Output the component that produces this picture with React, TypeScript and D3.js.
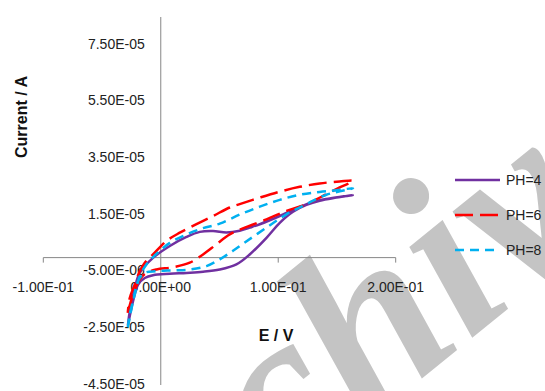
import React from 'react';
import * as d3 from 'd3';

// E / V and current (x1e-5 A), lower branch left->right then upper branch back
const ph4E = [-0.028, -0.0236, -0.0193, -0.0136, -0.0066, 0.0077, 0.0219, 0.036, 0.0502, 0.0644, 0.0757, 0.09, 0.1013, 0.1126, 0.124, 0.1353, 0.1495, 0.1634,
  0.1438, 0.1294, 0.1155, 0.1013, 0.0843, 0.0757, 0.0672, 0.0559, 0.0445, 0.0332, 0.0219, 0.0077, -0.0066, -0.0179, -0.0221, -0.0264, -0.028];
const ph4I = [-2.4, -1.54, -0.95, -0.72, -0.62, -0.57, -0.54, -0.5, -0.42, -0.24, 0.11, 0.7, 1.23, 1.62, 1.86, 2.01, 2.12, 2.21,
  2.09, 1.97, 1.74, 1.47, 1.18, 1.06, 0.95, 0.89, 0.94, 0.91, 0.73, 0.41, -0.01, -0.54, -1.07, -1.9, -2.4];

const ph6E = [-0.0281, -0.0236, -0.0179, -0.0122, -0.0037, 0.0105, 0.0247, 0.036, 0.0474, 0.0587, 0.0715, 0.09, 0.107, 0.124, 0.141, 0.1523, 0.1637,
  0.1523, 0.1353, 0.1183, 0.1013, 0.0843, 0.0672, 0.0587, 0.0445, 0.0304, 0.0162, 0.0049, -0.0066, -0.0136, -0.0179, -0.0221, -0.0264, -0.0281];
const ph6I = [-1.95, -1.3, -0.77, -0.54, -0.42, -0.34, -0.18, 0.11, 0.47, 0.82, 1.06, 1.35, 1.65, 1.89, 2.24, 2.48, 2.71,
  2.69, 2.62, 2.5, 2.33, 2.12, 1.89, 1.77, 1.47, 1.18, 0.88, 0.59, 0.11, -0.18, -0.48, -0.95, -1.43, -1.95];

const ph8E = [-0.028, -0.0236, -0.0193, -0.0136, -0.0037, 0.0105, 0.0247, 0.0389, 0.0502, 0.0615, 0.071, 0.09, 0.107, 0.124, 0.141, 0.1637,
  0.1495, 0.1353, 0.1183, 0.1013, 0.0843, 0.0672, 0.0502, 0.036, 0.0219, 0.0077, -0.0037, -0.0122, -0.0179, -0.0221, -0.0264, -0.028];
const ph8I = [-2.46, -1.54, -0.83, -0.54, -0.48, -0.45, -0.42, -0.3, -0.06, 0.24, 0.52, 1.06, 1.53, 1.89, 2.22, 2.45,
  2.38, 2.32, 2.22, 2.04, 1.8, 1.52, 1.2, 1.04, 0.82, 0.52, 0.13, -0.24, -0.66, -1.3, -2.01, -2.46];

const xTicks = [-0.1, 0, 0.1, 0.2];
const xTickLabels = ['-1.00E-01', '0.00E+00', '1.00E-01', '2.00E-01'];
const yTicks = [-4.5e-5, -2.5e-5, -5e-6, 1.5e-5, 3.5e-5, 5.5e-5, 7.5e-5];
const yTickLabels = ['-4.50E-05', '-2.50E-05', '-5.00E-06', '1.50E-05', '3.50E-05', '5.50E-05', '7.50E-05'];

const series = [
  { name: 'PH=4', E: ph4E, I: ph4I, color: '#7030A0', dash: null },
  { name: 'PH=6', E: ph6E, I: ph6I, color: '#FF0000', dash: '18,7' },
  { name: 'PH=8', E: ph8E, I: ph8I, color: '#00B0F0', dash: '9,6' },
];

const W = 545;
const H = 391;
const font = '"Liberation Sans", Arial, sans-serif';

export default function App() {
  const x = d3.scaleLinear().domain([-0.1, 0.2]).range([43.3, 395.7]);
  const y = d3.scaleLinear().domain([-4.5e-5, 8.5e-5]).range([385, 17]);
  const x0 = x(0);
  const y0 = y(0);

  const line = d3.line<[number, number]>()
    .x(d => x(d[0]))
    .y(d => y(d[1] * 1e-5))
    .curve(d3.curveCatmullRom.alpha(0.5));

  return (
    <div style={{ position: 'fixed', left: 0, top: 0 }}>
      <svg width={W} height={H} style={{ display: 'block', background: '#fff' }}>
        {/* watermark */}
        <text
          transform="translate(84,652) rotate(-39)"
          fontFamily='"Liberation Serif", serif'
          fontStyle="italic"
          fontWeight="bold"
          fontSize={240}
          fill="#c4c4c4"
        >Archive</text>

        {/* axes */}
        <line x1={x0} x2={x0} y1={y.range()[1]} y2={y.range()[0]} stroke="#868686" strokeWidth={1} />
        <line x1={x.range()[0]} x2={x.range()[1]} y1={y0} y2={y0} stroke="#868686" strokeWidth={1} />
        {xTicks.filter(t => t !== 0).map(t => (
          <line key={t} x1={x(t)} x2={x(t)} y1={y0} y2={y0 + 5} stroke="#868686" strokeWidth={1} />
        ))}

        {xTicks.map((t, i) => (
          <text key={t} x={x(t)} y={y0 + 34} textAnchor="middle" fontFamily={font} fontSize={14} fill="#222">
            {xTickLabels[i]}
          </text>
        ))}
        {yTicks.map((t, i) => (
          <text key={t} x={x0 - 16} y={y(t) + 3.5} textAnchor="end" fontFamily={font} fontSize={14} fill="#222">
            {yTickLabels[i]}
          </text>
        ))}

        {series.map(s => (
          <path
            key={s.name}
            d={line(s.E.map((e, i) => [e, s.I[i]] as [number, number])) || ''}
            fill="none"
            stroke={s.color}
            strokeWidth={2.5}
            strokeDasharray={s.dash || undefined}
          />
        ))}

        {/* axis titles */}
        <text transform="translate(27,117) rotate(-90)" textAnchor="middle" fontFamily={font} fontWeight="bold" fontSize={16} fill="#111">
          Current / A
        </text>
        <text x={276} y={341} textAnchor="middle" fontFamily={font} fontWeight="bold" fontSize={16} fill="#111">
          E / V
        </text>

        {/* legend */}
        {series.map((s, i) => {
          const ly = [180, 215, 250][i];
          return (
            <g key={s.name}>
              <line x1={455} x2={500} y1={ly} y2={ly} stroke={s.color} strokeWidth={2.5} strokeDasharray={s.dash || undefined} />
              <text x={506} y={ly + 5} fontFamily={font} fontSize={14} fill="#222">{s.name}</text>
            </g>
          );
        })}
      </svg>
    </div>
  );
}
